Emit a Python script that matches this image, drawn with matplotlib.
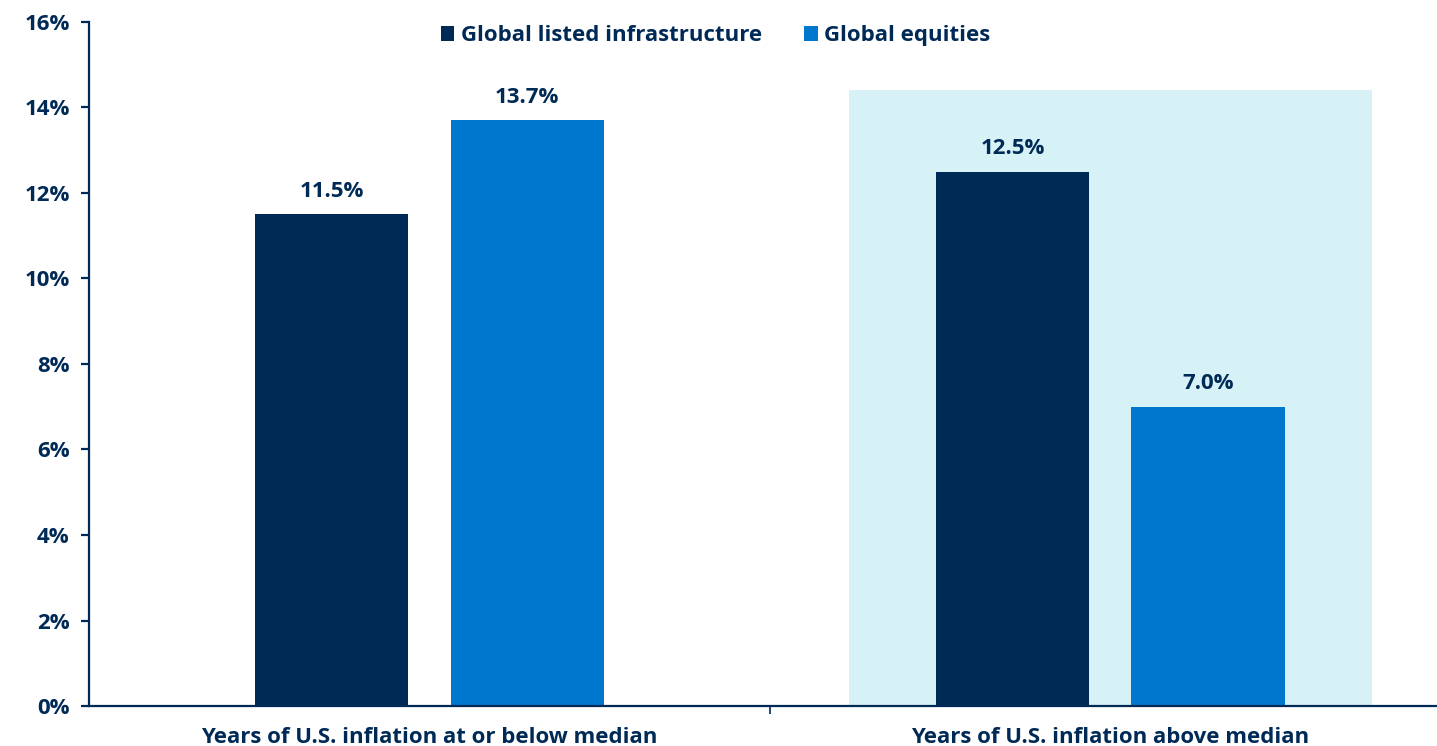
import matplotlib
matplotlib.use("Agg")
import matplotlib.pyplot as plt
import numpy as np

categories = ["Years of U.S. inflation at or below median", "Years of U.S. inflation above median"]
series_names = ["Global listed infrastructure", "Global equities"]
infra = [11.5, 12.5]
equities = [13.7, 7.0]
y_ticks = [0, 2, 4, 6, 8, 10, 12, 14, 16]

navy = "#002A56"
blue = "#0077CF"
shade = "#D7F2F7"

plt.rcParams["font.family"] = ["Open Sans", "DejaVu Sans"]
plt.rcParams["font.weight"] = "bold"

fig = plt.figure(figsize=(14.37, 7.46), dpi=100)
ax = fig.add_axes([0.062, 0.0536, 0.938, 0.917])

x = np.arange(len(categories))
w = 0.225
off = 0.1435

# shaded background behind the "above median" group
ax.bar(x[1], 14.4, width=0.768, color=shade, zorder=0)

b1 = ax.bar(x - off, infra, width=w, color=navy, label=series_names[0], zorder=2)
b2 = ax.bar(x + off, equities, width=w, color=blue, label=series_names[1], zorder=2)

for bars in (b1, b2):
    for r in bars:
        ax.annotate(f"{r.get_height():.1f}%", (r.get_x() + r.get_width() / 2, r.get_height()),
                    xytext=(0, 12.5), textcoords="offset points", ha="center", va="baseline",
                    fontsize=16, fontweight="bold", color=navy)

ax.set_xlim(-0.5, 1.48)
ax.set_ylim(0, 16)
ax.set_yticks(y_ticks)
ax.set_yticklabels([f"{t}%" for t in y_ticks])
ax.set_xticks([0.5])
ax.set_xticklabels([""])
for xi, c in zip(x, categories):
    ax.text(xi, -0.865, c, ha="center", va="baseline", fontsize=16, fontweight="bold", color=navy)

for s in ("top", "right"):
    ax.spines[s].set_visible(False)
for s in ("left", "bottom"):
    ax.spines[s].set_color(navy)
    ax.spines[s].set_linewidth(1.6)
ax.tick_params(axis="y", length=6, width=1.6, color=navy, labelcolor=navy, labelsize=16, pad=8)
ax.tick_params(axis="x", length=6, width=1.2, color=navy)
for lab in ax.get_yticklabels():
    lab.set_fontweight("bold")

leg = ax.legend(loc="center", bbox_to_anchor=(0.498, 0.952), bbox_transform=fig.transFigure,
                ncol=2, frameon=False, fontsize=16, handlelength=0.6, handleheight=0.6,
                handletextpad=0.3, columnspacing=1.9)
for t in leg.get_texts():
    t.set_color(navy)
    t.set_fontweight("bold")

fig.savefig("out.png", dpi=100)
